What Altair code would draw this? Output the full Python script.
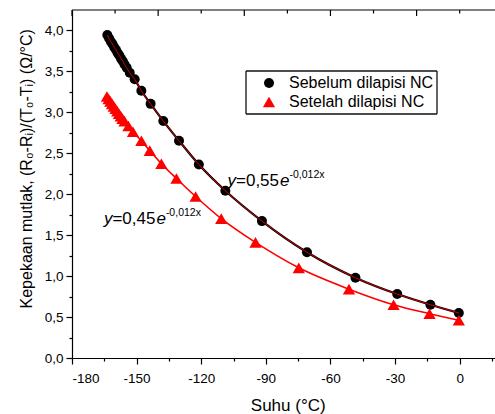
import altair as alt
import pandas as pd

# ---------------- data ----------------
series_names = ["Sebelum dilapisi NC", "Setelah dilapisi NC"]

before_temp = [-163.6, -162.8, -162.0, -161.2, -160.4, -159.6, -158.8, -158.0, -157.2,
               -156.4, -155.6, -154.6, -153.2, -150.9, -147.8, -143.5, -137.6, -130.3,
               -121.1, -108.8, -91.8, -70.9, -48.4, -29.0, -13.6, -0.4]
before_val = [3.94, 3.90, 3.86, 3.83, 3.79, 3.76, 3.72, 3.69, 3.65,
              3.62, 3.58, 3.54, 3.48, 3.40, 3.26, 3.10, 2.89, 2.65,
              2.36, 2.04, 1.67, 1.29, 0.98, 0.78, 0.65, 0.55]

after_temp = [-163.8, -163.0, -162.2, -161.4, -160.6, -159.8, -159.0, -158.2, -157.4,
              -156.6, -155.6, -153.8, -151.7, -147.8, -143.9, -138.5, -131.5, -122.6,
              -110.7, -94.8, -74.7, -51.4, -30.7, -14.0, -0.4]
after_val = [3.19, 3.16, 3.13, 3.10, 3.07, 3.04, 3.01, 2.98, 2.95,
             2.92, 2.89, 2.83, 2.76, 2.65, 2.53, 2.37, 2.19, 1.97,
             1.70, 1.41, 1.10, 0.84, 0.65, 0.54, 0.46]

x_major = [-180, -150, -120, -90, -60, -30, 0]
x_minor = [-165, -135, -105, -75, -45, -15, 15]
y_major = [0.0, 0.5, 1.0, 1.5, 2.0, 2.5, 3.0, 3.5, 4.0]
y_minor = [0.25, 0.75, 1.25, 1.75, 2.25, 2.75, 3.25, 3.75]
top_long = [-180, -140, -100, -60, -20]
top_short = [-160, -120, -80, -40, 0]

eq_x = [-107.8, -165.2]
eq_y = [2.10, 1.634]
eq_coef = ["=0,55", "=0,45"]
eq_exp = ["-0,012x", "-0,012x"]

# ---------------- tables ----------------
df_before = pd.DataFrame({"t": before_temp, "v": before_val, "s": series_names[0]})
df_after = pd.DataFrame({"t": after_temp, "v": after_val, "s": series_names[1]})
df_all = pd.concat([df_before, df_after], ignore_index=True)
eq_df = pd.DataFrame({"x": eq_x, "y": eq_y, "coef": eq_coef, "exp": eq_exp})
one_row = pd.DataFrame({"k": [0]})

W, H = 423, 348
FONT = "Liberation Sans"
xs = alt.Scale(domain=[-180, 16.4], nice=False, zero=False)
ys = alt.Scale(domain=[0, 4.245], nice=False, zero=False)

LEG_X, LEG_Y, LEG_W, LEG_H = 174, 61, 191, 43
legend = alt.Legend(title=None, orient="none", legendX=LEG_X, legendY=LEG_Y)

points = alt.Chart(df_all).mark_point(filled=True, opacity=1, strokeWidth=0).encode(
    x=alt.X("t:Q", scale=xs, axis=alt.Axis(
        orient="bottom", values=x_major, tickSize=6, tickWidth=1.2, domainWidth=1.2,
        labelExpr="'' + datum.value", labelPadding=7, labelFontSize=13.5,
        title="Suhu (°C)", titleFontSize=17, titleFontWeight="normal",
        titleX=215.7, titleY=52, titleAlign="center", titleBaseline="alphabetic",
        grid=False)),
    y=alt.Y("v:Q", scale=ys, axis=alt.Axis(
        orient="left", values=y_major, tickSize=6, tickWidth=1.2, domainWidth=1.2,
        labelExpr="replace(format(datum.value, '.1f'), '.', ',')", labelPadding=3,
        labelFontSize=13.5,
        title="Kepekaan mutlak, (R₀-Rᵢ)/(T₀-Tᵢ) (Ω/°C)", titleFontSize=16,
        titleFontWeight="normal", titleAngle=270, titleX=-45.5, titleY=158.3,
        titleAlign="center", titleBaseline="middle", grid=False)),
    color=alt.Color("s:N", scale=alt.Scale(domain=series_names, range=["black", "red"]),
                    legend=legend),
    shape=alt.Shape("s:N", scale=alt.Scale(domain=series_names, range=["circle", "triangle-up"]),
                    legend=legend),
    size=alt.Size("s:N", scale=alt.Scale(domain=series_names, range=[100, 150]), legend=None),
)

minor = alt.Chart(df_before).mark_point(opacity=0).encode(
    x=alt.X("t:Q", scale=xs, axis=alt.Axis(
        orient="bottom", values=x_minor, tickSize=3, tickWidth=1.2, labels=False,
        domain=False, title=None, grid=False)),
    y=alt.Y("v:Q", scale=ys, axis=alt.Axis(
        orient="left", values=y_minor, tickSize=3, tickWidth=1.2, labels=False,
        domain=False, title=None, grid=False)),
)

noax_x = lambda f: alt.X(f, scale=xs, axis=None)
noax_y = lambda f: alt.Y(f, scale=ys, axis=None)

fit_before_dark = alt.Chart(df_before).mark_line(
    color="black", strokeWidth=2.2, interpolate="monotone").encode(
    x=noax_x("t:Q"), y=noax_y("v:Q"))
fit_before_red = alt.Chart(df_before).mark_line(
    color="#d00000", strokeWidth=1.0, interpolate="monotone").encode(
    x=noax_x("t:Q"), y=noax_y("v:Q"))
fit_after = alt.Chart(df_after).mark_line(
    color="red", strokeWidth=1.6, interpolate="monotone").encode(
    x=noax_x("t:Q"), y=noax_y("v:Q"))

base_t = alt.Chart(eq_df).encode(x=noax_x("x:Q"), y=noax_y("y:Q"))
txt = dict(font=FONT, color="black", align="left", baseline="alphabetic")
t_y = base_t.mark_text(text="y", fontSize=17, fontStyle="italic", **txt)
t_c = base_t.mark_text(dx=8.5, fontSize=17, **txt).encode(text="coef:N")
t_e = base_t.mark_text(text="e", dx=52.5, fontSize=17, fontStyle="italic", **txt)
t_s = base_t.mark_text(dx=62, dy=-8, fontSize=10.5, **txt).encode(text="exp:N")

top_line = alt.Chart(one_row).mark_rule(color="black", strokeWidth=1.2).encode(
    x=alt.value(0), x2=alt.value(W), y=alt.value(0))
top_l = alt.Chart(pd.DataFrame({"t": top_long})).mark_rule(
    color="black", strokeWidth=1.2).encode(x=noax_x("t:Q"), y=alt.value(0), y2=alt.value(6))
top_s = alt.Chart(pd.DataFrame({"t": top_short})).mark_rule(
    color="black", strokeWidth=1.2).encode(x=noax_x("t:Q"), y=alt.value(0), y2=alt.value(3.5))

BOX = dict(color="#111111", strokeWidth=1.3)
box_top = alt.Chart(one_row).mark_rule(**BOX).encode(
    x=alt.value(LEG_X), x2=alt.value(LEG_X + LEG_W), y=alt.value(LEG_Y))
box_bot = alt.Chart(one_row).mark_rule(**BOX).encode(
    x=alt.value(LEG_X), x2=alt.value(LEG_X + LEG_W), y=alt.value(LEG_Y + LEG_H))
box_left = alt.Chart(one_row).mark_rule(**BOX).encode(
    x=alt.value(LEG_X), y=alt.value(LEG_Y), y2=alt.value(LEG_Y + LEG_H))
box_right = alt.Chart(one_row).mark_rule(**BOX).encode(
    x=alt.value(LEG_X + LEG_W), y=alt.value(LEG_Y), y2=alt.value(LEG_Y + LEG_H))

chart = alt.layer(
    minor, points, fit_before_dark, fit_before_red, fit_after,
    t_y, t_c, t_e, t_s, top_line, top_l, top_s,
    box_top, box_bot, box_left, box_right
).resolve_axis(x="independent", y="independent").properties(
    width=W, height=H,
    padding={"left": 72, "top": 10, "right": 0, "bottom": 56},
    autosize=alt.AutoSizeParams(type="none"),
).configure_view(stroke=None).configure_axis(
    labelFont=FONT, titleFont=FONT, labelColor="black", titleColor="black",
    domainColor="black", tickColor="black",
).configure_legend(
    labelFont=FONT, labelFontSize=16, labelColor="black",
    padding=4, rowPadding=3, symbolOffset=11, labelOffset=12,
    symbolSize=100, symbolStrokeWidth=0, symbolOpacity=1,
)

chart.save("out.html", embed_options={"renderer": "svg", "actions": False})
